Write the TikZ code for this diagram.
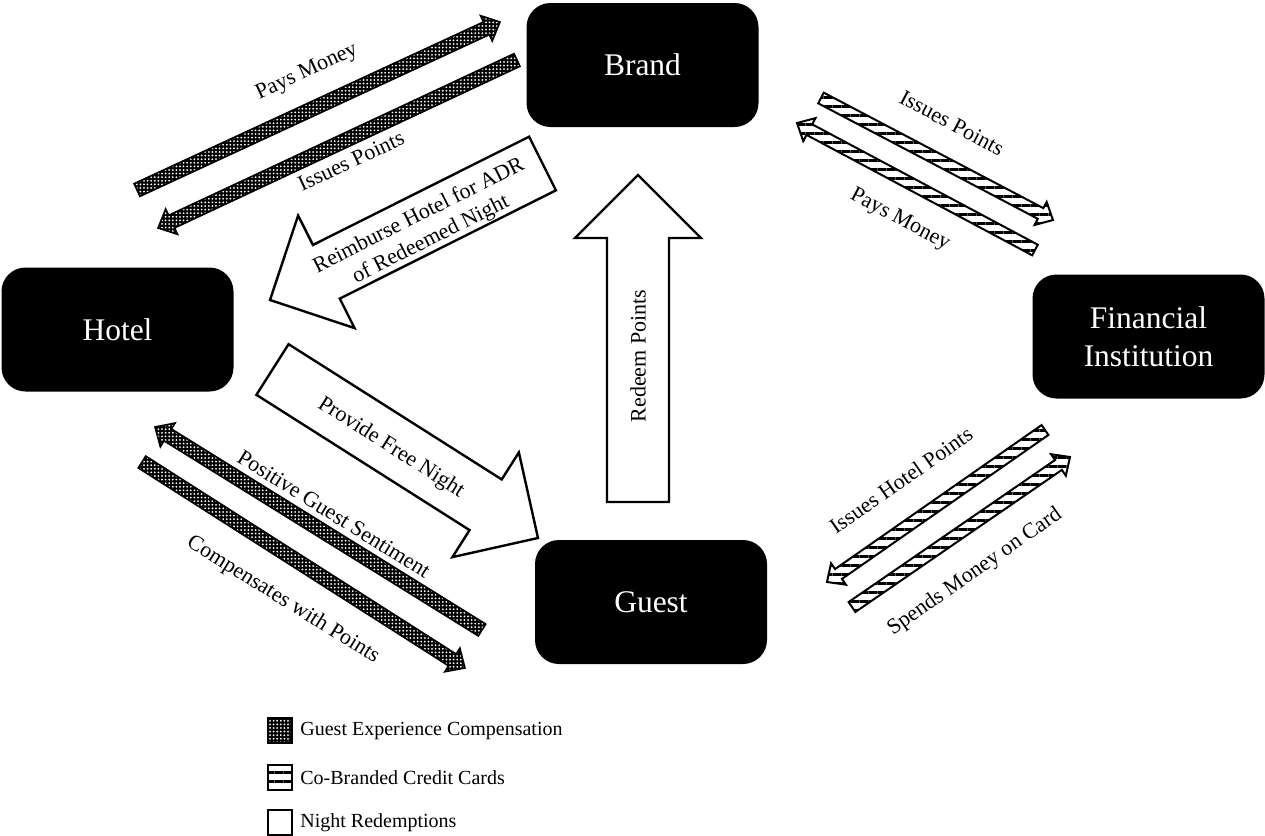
\documentclass[tikz,border=0pt]{standalone}
\usepackage{fontspec}
\setmainfont{Liberation Serif}
\usetikzlibrary{calc,patterns.meta}

\newcommand\bandarrow[6]{%
  \path[#1] let \p1=($(#3)-(#2)$), \n1={atan2(\y1,\x1)}, \n2={veclen(\x1,\y1)} in
    [shift={(#2)}, rotate=\n1]
    (0pt,-#4) -- (\n2*1pt-#6,-#4) -- (\n2*1pt-#6,-#5) -- (\n2*1pt,0pt)
    -- (\n2*1pt-#6,#5) -- (\n2*1pt-#6,#4) -- (0pt,#4) -- cycle;
}

\begin{document}
\begin{tikzpicture}[x=0.5pt, y=-0.5pt,
  party/.style={rectangle, rounded corners=12pt, fill=black, text=white, minimum width=116pt,
    minimum height=62pt, align=center, font=\fontsize{15.75}{19}\selectfont},
  compband/.style={draw, line width=0.8pt, preaction={fill=black},
    pattern={Dots[distance=1.8pt, radius=0.5pt]}, pattern color=white},
  cardband/.style={draw, line width=1pt, fill=white, postaction={pattern={Lines[distance=4.5pt, line width=1.5pt]}}},
  nightband/.style={draw, line width=1.2pt, fill=white},
  flowlabel/.style={font=\fontsize{11}{13.2}\selectfont, align=center, inner sep=0pt},
  legkey/.style={rectangle, draw, minimum width=12pt, minimum height=12.5pt, inner sep=0pt, line width=1pt},
  legtext/.style={font=\fontsize{10}{12}\selectfont, anchor=west, inner sep=0pt}]
  \useasboundingbox (0,0) rectangle (1265,836);

  \node[party] (hotel) at (117.5,329.5) {Hotel};
  \node[party] (brand) at (642.5,65) {Brand};
  \node[party] (bank) at (1148.5,336.5) {Financial\\Institution};
  \node[party] (guest) at (651,602) {Guest};

  % night redemptions
  \coordinate (reimb-s) at (542.5,163.5);
  \coordinate (reimb-e) at (270,300);
  \coordinate (free-s) at (272.5,369.5);
  \coordinate (free-e) at (538,538);
  \coordinate (redeem-s) at (638,502);
  \coordinate (redeem-e) at (638,175);
  \bandarrow{nightband}{reimb-s}{reimb-e}{15pt}{31.5pt}{31.5pt}
  \bandarrow{nightband}{free-s}{free-e}{15pt}{31pt}{31pt}
  \bandarrow{nightband}{redeem-s}{redeem-e}{15.5pt}{31.5pt}{31.5pt}

  % guest experience compensation
  \coordinate (pay-s) at (137,190);
  \coordinate (pay-e) at (500,22);
  \coordinate (iss-s) at (517,60);
  \coordinate (iss-e) at (158,228);
  \coordinate (sent-s) at (482,630);
  \coordinate (sent-e) at (155,427);
  \coordinate (comp-s) at (142,462);
  \coordinate (comp-e) at (465,668);
  \bandarrow{compband}{pay-s}{pay-e}{3.5pt}{7pt}{7.5pt}
  \bandarrow{compband}{iss-s}{iss-e}{3.5pt}{7pt}{7.5pt}
  \bandarrow{compband}{sent-s}{sent-e}{3.5pt}{7pt}{7.5pt}
  \bandarrow{compband}{comp-s}{comp-e}{3.5pt}{7pt}{7.5pt}

  % co-branded credit cards
  \coordinate (bpts-s) at (821,98);
  \coordinate (bpts-e) at (1053,220);
  \coordinate (bpay-s) at (1035,250);
  \coordinate (bpay-e) at (797,123);
  \coordinate (gpts-s) at (1045,430);
  \coordinate (gpts-e) at (827,582);
  \coordinate (spend-s) at (852,607);
  \coordinate (spend-e) at (1070,457);
  \bandarrow{cardband}{bpts-s}{bpts-e}{3pt}{6.5pt}{7pt}
  \bandarrow{cardband}{bpay-s}{bpay-e}{3pt}{6.5pt}{7pt}
  \bandarrow{cardband}{gpts-s}{gpts-e}{3pt}{6.5pt}{7pt}
  \bandarrow{cardband}{spend-s}{spend-e}{3pt}{6.5pt}{7pt}

  \draw (307,72) node[flowlabel, rotate=24.8] (l-pay) {Pays Money};
  \draw (351,161) node[flowlabel, rotate=25] (l-iss) {Issues Points};
  \draw (425,228) node[flowlabel, rotate=26.6] (l-reimb) {Reimburse Hotel for ADR\\of Redeemed Night};
  \draw (391,448) node[flowlabel, rotate=-32.4] (l-free) {Provide Free Night};
  \draw (638,356) node[flowlabel, rotate=90] (l-redeem) {Redeem Points};
  \draw (952,123) node[flowlabel, rotate=-28] (l-bpts) {Issues Points};
  \draw (900,220) node[flowlabel, rotate=-28] (l-bpay) {Pays Money};
  \draw (901,480) node[flowlabel, rotate=35] (l-gpts) {Issues Hotel Points};
  \draw (975,572) node[flowlabel, rotate=35] (l-spend) {Spends Money on Card};
  \draw (334,514) node[flowlabel, rotate=-32] (l-sent) {Positive Guest Sentiment};
  \draw (283,600) node[flowlabel, rotate=-32] (l-comp) {Compensates with Points};

  % legend
  \node[legkey, compband] (key-comp) at (280,730.5) {};
  \node[legkey, cardband] (key-card) at (280,777.5) {};
  \node[legkey] (key-night) at (280,822.5) {};
  \node[legtext] (t-comp) at (300,730.5) {Guest Experience Compensation};
  \node[legtext] (t-card) at (300,777.5) {Co-Branded Credit Cards};
  \node[legtext] (t-night) at (300,822.5) {Night Redemptions};
\end{tikzpicture}
\end{document}
